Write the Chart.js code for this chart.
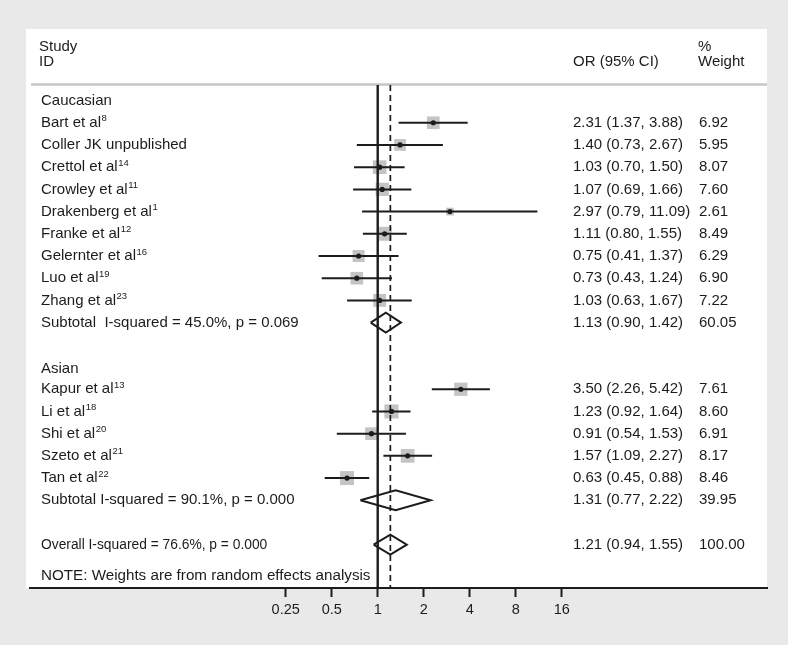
<!DOCTYPE html>
<html>
<head>
<meta charset="utf-8">
<script src="https://cdn.jsdelivr.net/npm/chart.js@4"></script>
<style>
html,body{margin:0;padding:0;background:#e8e9e8}
#wrap{width:788px;height:645px}
</style>
</head>
<body>
<div id="wrap"><canvas id="chart" width="788" height="645"></canvas></div>
<script>
// study rows
const names = ["Bart et al","Coller JK unpublished","Crettol et al","Crowley et al","Drakenberg et al","Franke et al","Gelernter et al","Luo et al","Zhang et al","Kapur et al","Li et al","Shi et al","Szeto et al","Tan et al"]
const refs = ["8","","14","11","1","12","16","19","23","13","18","20","21","22"]
const rows = [1,2,3,4,5,6,7,8,9,13,14,15,16,17]
const orVals = [2.31,1.40,1.03,1.07,2.97,1.11,0.75,0.73,1.03,3.50,1.23,0.91,1.57,0.63]
const loVals = [1.37,0.73,0.70,0.69,0.79,0.80,0.41,0.43,0.63,2.26,0.92,0.54,1.09,0.45]
const hiVals = [3.88,2.67,1.50,1.66,11.09,1.55,1.37,1.24,1.67,5.42,1.64,1.53,2.27,0.88]
const weights = [6.92,5.95,8.07,7.60,2.61,8.49,6.29,6.90,7.22,7.61,8.60,6.91,8.17,8.46]

// group headers
const groups = ["Caucasian","Asian"]
const groupRows = [0,12.1]

// pooled estimates (subtotals + overall)
const poolLabels = ["Subtotal  I-squared = 45.0%, p = 0.069","Subtotal I-squared = 90.1%, p = 0.000","Overall I-squared = 76.6%, p = 0.000"]
const poolRows = [10,18,20]
const poolOr = [1.13,1.31,1.21]
const poolLo = [0.90,0.77,0.94]
const poolHi = [1.42,2.22,1.55]
const poolWeights = [60.05,39.95,100.00]

const tickValues = [0.25,0.5,1,2,4,8,16]

const yMin = -0.7, yMax = 21.95
const FONT = "'Liberation Sans', Arial, sans-serif"
const INK = "#1c1c1c"

const datasets = []

// weight squares
datasets.push({
  data: orVals.map((v,i)=>({x:v,y:rows[i]})),
  pointStyle:"rect",
  pointRadius: weights.map(w=>4.8*Math.sqrt(w)/Math.SQRT2),
  backgroundColor:"#c4c4c4",
  borderWidth:0,
  order:6
})

// null line and overall estimate line
datasets.push({
  data:[{x:1,y:yMin},{x:1,y:yMax}],
  showLine:true, pointRadius:0, borderColor:INK, borderWidth:2.4, order:4
})
datasets.push({
  data:[{x:poolOr[2],y:yMin},{x:poolOr[2],y:yMax}],
  showLine:true, pointRadius:0, borderColor:INK, borderWidth:1.7, borderDash:[6,4], order:4
})

// confidence intervals
rows.forEach((r,i)=>{
  datasets.push({
    data:[{x:loVals[i],y:r},{x:hiVals[i],y:r}],
    showLine:true, pointRadius:0, borderColor:INK, borderWidth:2, order:3
  })
})

// diamonds
const dh = 0.45
poolRows.forEach((r,i)=>{
  datasets.push({
    data:[{x:poolLo[i],y:r},{x:poolOr[i],y:r-dh},{x:poolHi[i],y:r},{x:poolOr[i],y:r+dh},{x:poolLo[i],y:r}],
    showLine:true, pointRadius:0, borderColor:INK, borderWidth:2, borderJoinStyle:"miter", order:2
  })
})

// centre dots
datasets.push({
  data: orVals.map((v,i)=>({x:v,y:rows[i]})),
  pointRadius:2.6, backgroundColor:INK, borderWidth:0, order:1
})

const panel = {
  id:"panel",
  beforeDraw(c){
    const ctx = c.ctx, a = c.chartArea
    ctx.save()
    ctx.fillStyle = "#e8e9e8"
    ctx.fillRect(0,0,c.width,c.height)
    ctx.fillStyle = "#ffffff"
    ctx.fillRect(a.left-4, 29, a.right-a.left+4, a.bottom-29)
    ctx.strokeStyle = "#c6c6c6"
    ctx.lineWidth = 2.5
    ctx.beginPath()
    ctx.moveTo(a.left+1, 84.5)
    ctx.lineTo(a.right, 84.5)
    ctx.stroke()
    ctx.restore()
  },
  afterDraw(c){
    const ctx = c.ctx, y = c.scales.y
    const xLab = 41, xOr = 573, xW = 699
    const main = "15px " + FONT
    ctx.save()
    ctx.fillStyle = INK
    ctx.textBaseline = "middle"
    ctx.textAlign = "left"
    ctx.font = main
    // header
    ctx.fillText("Study", 39, 46.5)
    ctx.fillText("ID", 39, 62)
    ctx.fillText("OR (95% CI)", xOr, 62)
    ctx.fillText("%", 698, 46.5)
    ctx.fillText("Weight", 698, 62)

    groups.forEach((g,i)=>ctx.fillText(g, xLab, y.getPixelForValue(groupRows[i])))

    names.forEach((n,i)=>{
      const py = y.getPixelForValue(rows[i])
      ctx.font = main
      ctx.fillText(n, xLab, py)
      const w = ctx.measureText(n).width
      if(refs[i]){
        ctx.font = "9.5px " + FONT
        ctx.fillText(refs[i], xLab + w + 0.5, py - 4)
      }
      ctx.font = main
      ctx.fillText(`${orVals[i].toFixed(2)} (${loVals[i].toFixed(2)}, ${hiVals[i].toFixed(2)})`, xOr, py)
      ctx.fillText(weights[i].toFixed(2), xW, py)
    })

    poolLabels.forEach((t,i)=>{
      const py = y.getPixelForValue(poolRows[i])
      ctx.font = (i===2 ? "13.8px " : "15px ") + FONT
      ctx.fillText(t, xLab, py)
      ctx.font = main
      ctx.fillText(`${poolOr[i].toFixed(2)} (${poolLo[i].toFixed(2)}, ${poolHi[i].toFixed(2)})`, xOr, py)
      ctx.fillText(poolWeights[i].toFixed(2), xW, py)
    })

    ctx.font = "15.2px " + FONT
    ctx.fillText("NOTE: Weights are from random effects analysis", xLab, y.getPixelForValue(21.4))
    ctx.restore()
  }
}

new Chart(document.getElementById("chart"),{
  type:"scatter",
  data:{datasets},
  options:{
    responsive:false,
    animation:false,
    layout:{padding:{left:30,right:21,top:85,bottom:0}},
    plugins:{legend:{display:false},tooltip:{enabled:false}},
    scales:{
      x:{
        type:"logarithmic",
        bounds:"data",
        min:Math.pow(2,-7.559),
        max:Math.pow(2,8.463),
        afterBuildTicks:(s)=>{ s.ticks = tickValues.map(v=>({value:v})) },
        afterFit:(s)=>{ s.height = 57 },
        border:{display:true,color:INK,width:2},
        grid:{display:true,drawOnChartArea:false,drawTicks:true,tickLength:9,tickWidth:2,tickColor:INK},
        ticks:{autoSkip:false,maxRotation:0,padding:4,color:INK,font:{family:FONT,size:14.5},callback:(v)=>String(v)}
      },
      y:{
        type:"linear",
        display:false,
        reverse:true,
        min:yMin,
        max:yMax
      }
    }
  },
  plugins:[panel]
})
</script>
</body>
</html>
